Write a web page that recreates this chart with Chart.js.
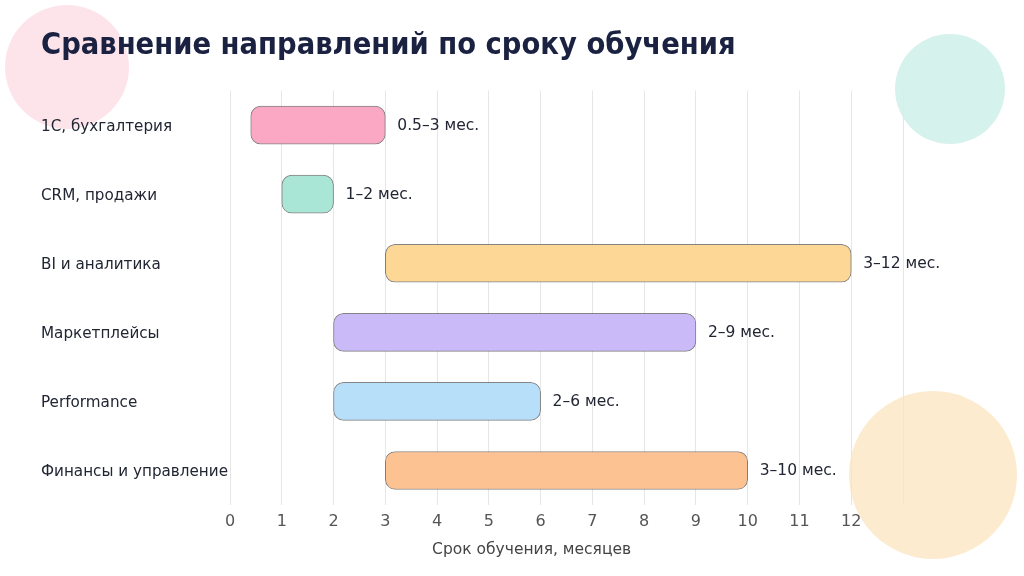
<!DOCTYPE html>
<html lang="ru">
<head>
<meta charset="utf-8">
<title>Сравнение направлений по сроку обучения</title>
<script src="https://cdn.jsdelivr.net/npm/chart.js@4.4.1/dist/chart.umd.min.js"></script>
<style>
  html, body { margin: 0; padding: 0; background: #ffffff; }
  #wrap { width: 1024px; height: 576px; position: relative; }
</style>
</head>
<body>
<div id="wrap"><canvas id="durationChart"></canvas></div>
<script>
// data
const directions = ['1С, бухгалтерия', 'CRM, продажи', 'BI и аналитика', 'Маркетплейсы', 'Performance', 'Финансы и управление'];
const minMonths = [0.4, 1, 3, 2, 2, 3];
const maxMonths = [3, 2, 12, 9, 6, 10];
const rangeLabels = ['0.5–3 мес.', '1–2 мес.', '3–12 мес.', '2–9 мес.', '2–6 мес.', '3–10 мес.'];
const barColors = ['#faa8c3', '#a9e6d6', '#fdd795', '#cbbaf8', '#b8dffa', '#fdc291'];
const tickMax = 12;

Chart.defaults.font.family = '"DejaVu Sans", sans-serif';

// soft background circles
const bgCircles = {
  id: 'bgCircles',
  beforeDraw(chart) {
    const c = chart.ctx;
    const circles = [
      [67, 67, 62, '#fde4eb'],
      [950, 89, 55, '#d6f2ed'],
      [933, 475, 84, '#fdebd0']
    ];
    c.save();
    circles.forEach(([x, y, r, col]) => {
      c.beginPath();
      c.arc(x, y, r, 0, Math.PI * 2);
      c.fillStyle = col;
      c.fill();
    });
    c.restore();
  }
};

// "x–y мес." next to each bar, plus the x axis caption
const barText = {
  id: 'barText',
  afterDatasetsDraw(chart) {
    const c = chart.ctx;
    const meta = chart.getDatasetMeta(0);
    c.save();
    c.font = '15.5px "DejaVu Sans", sans-serif';
    c.fillStyle = '#222633';
    c.textAlign = 'left';
    c.textBaseline = 'middle';
    meta.data.forEach((bar, i) => {
      c.fillText(rangeLabels[i], Math.max(bar.x, bar.base) + 12, bar.y + 1);
    });
    const xs = chart.scales.x;
    c.fillStyle = '#444';
    c.textAlign = 'center';
    c.fillText('Срок обучения, месяцев', xs.getPixelForValue(tickMax / 2) - 9, 550);
    c.restore();
  }
};

const ctx = document.getElementById('durationChart').getContext('2d');

const durationChart = new Chart(ctx, {
  type: 'bar',
  data: {
    labels: directions,
    datasets: [{
      data: directions.map((d, i) => [minMonths[i], maxMonths[i]]),
      backgroundColor: barColors,
      borderColor: 'rgba(80,80,80,0.7)',
      borderWidth: 1,
      borderRadius: 10,
      borderSkipped: false,
      barThickness: 38
    }]
  },
  options: {
    indexAxis: 'y',
    responsive: true,
    maintainAspectRatio: false,
    animation: false,
    layout: { padding: { left: 41, right: 121, top: 0, bottom: 0 } },
    plugins: {
      legend: { display: false },
      tooltip: { enabled: false },
      title: {
        display: true,
        text: 'Сравнение направлений по сроку обучения',
        align: 'start',
        color: '#1b2140',
        font: { family: '"DejaVu Sans Condensed", "DejaVu Sans", sans-serif', size: 30.5, weight: 'bold' },
        padding: { top: 28, bottom: 26 }
      }
    },
    scales: {
      x: {
        min: 0,
        max: tickMax + 1,
        grid: { color: '#e6e6e6', drawTicks: false },
        border: { display: false },
        ticks: {
          stepSize: 1,
          padding: 7,
          color: '#555',
          font: { size: 16 },
          callback: v => (v <= tickMax ? v : '')
        },
        afterFit: s => { s.height = 71; }
      },
      y: {
        grid: { display: false, drawTicks: false },
        border: { display: false },
        ticks: {
          crossAlign: 'far',
          labelOffset: 2,
          color: '#222633',
          font: { size: 15.2 }
        },
        afterFit: s => { s.width = 189; }
      }
    }
  },
  plugins: [bgCircles, barText]
});
</script>
</body>
</html>
